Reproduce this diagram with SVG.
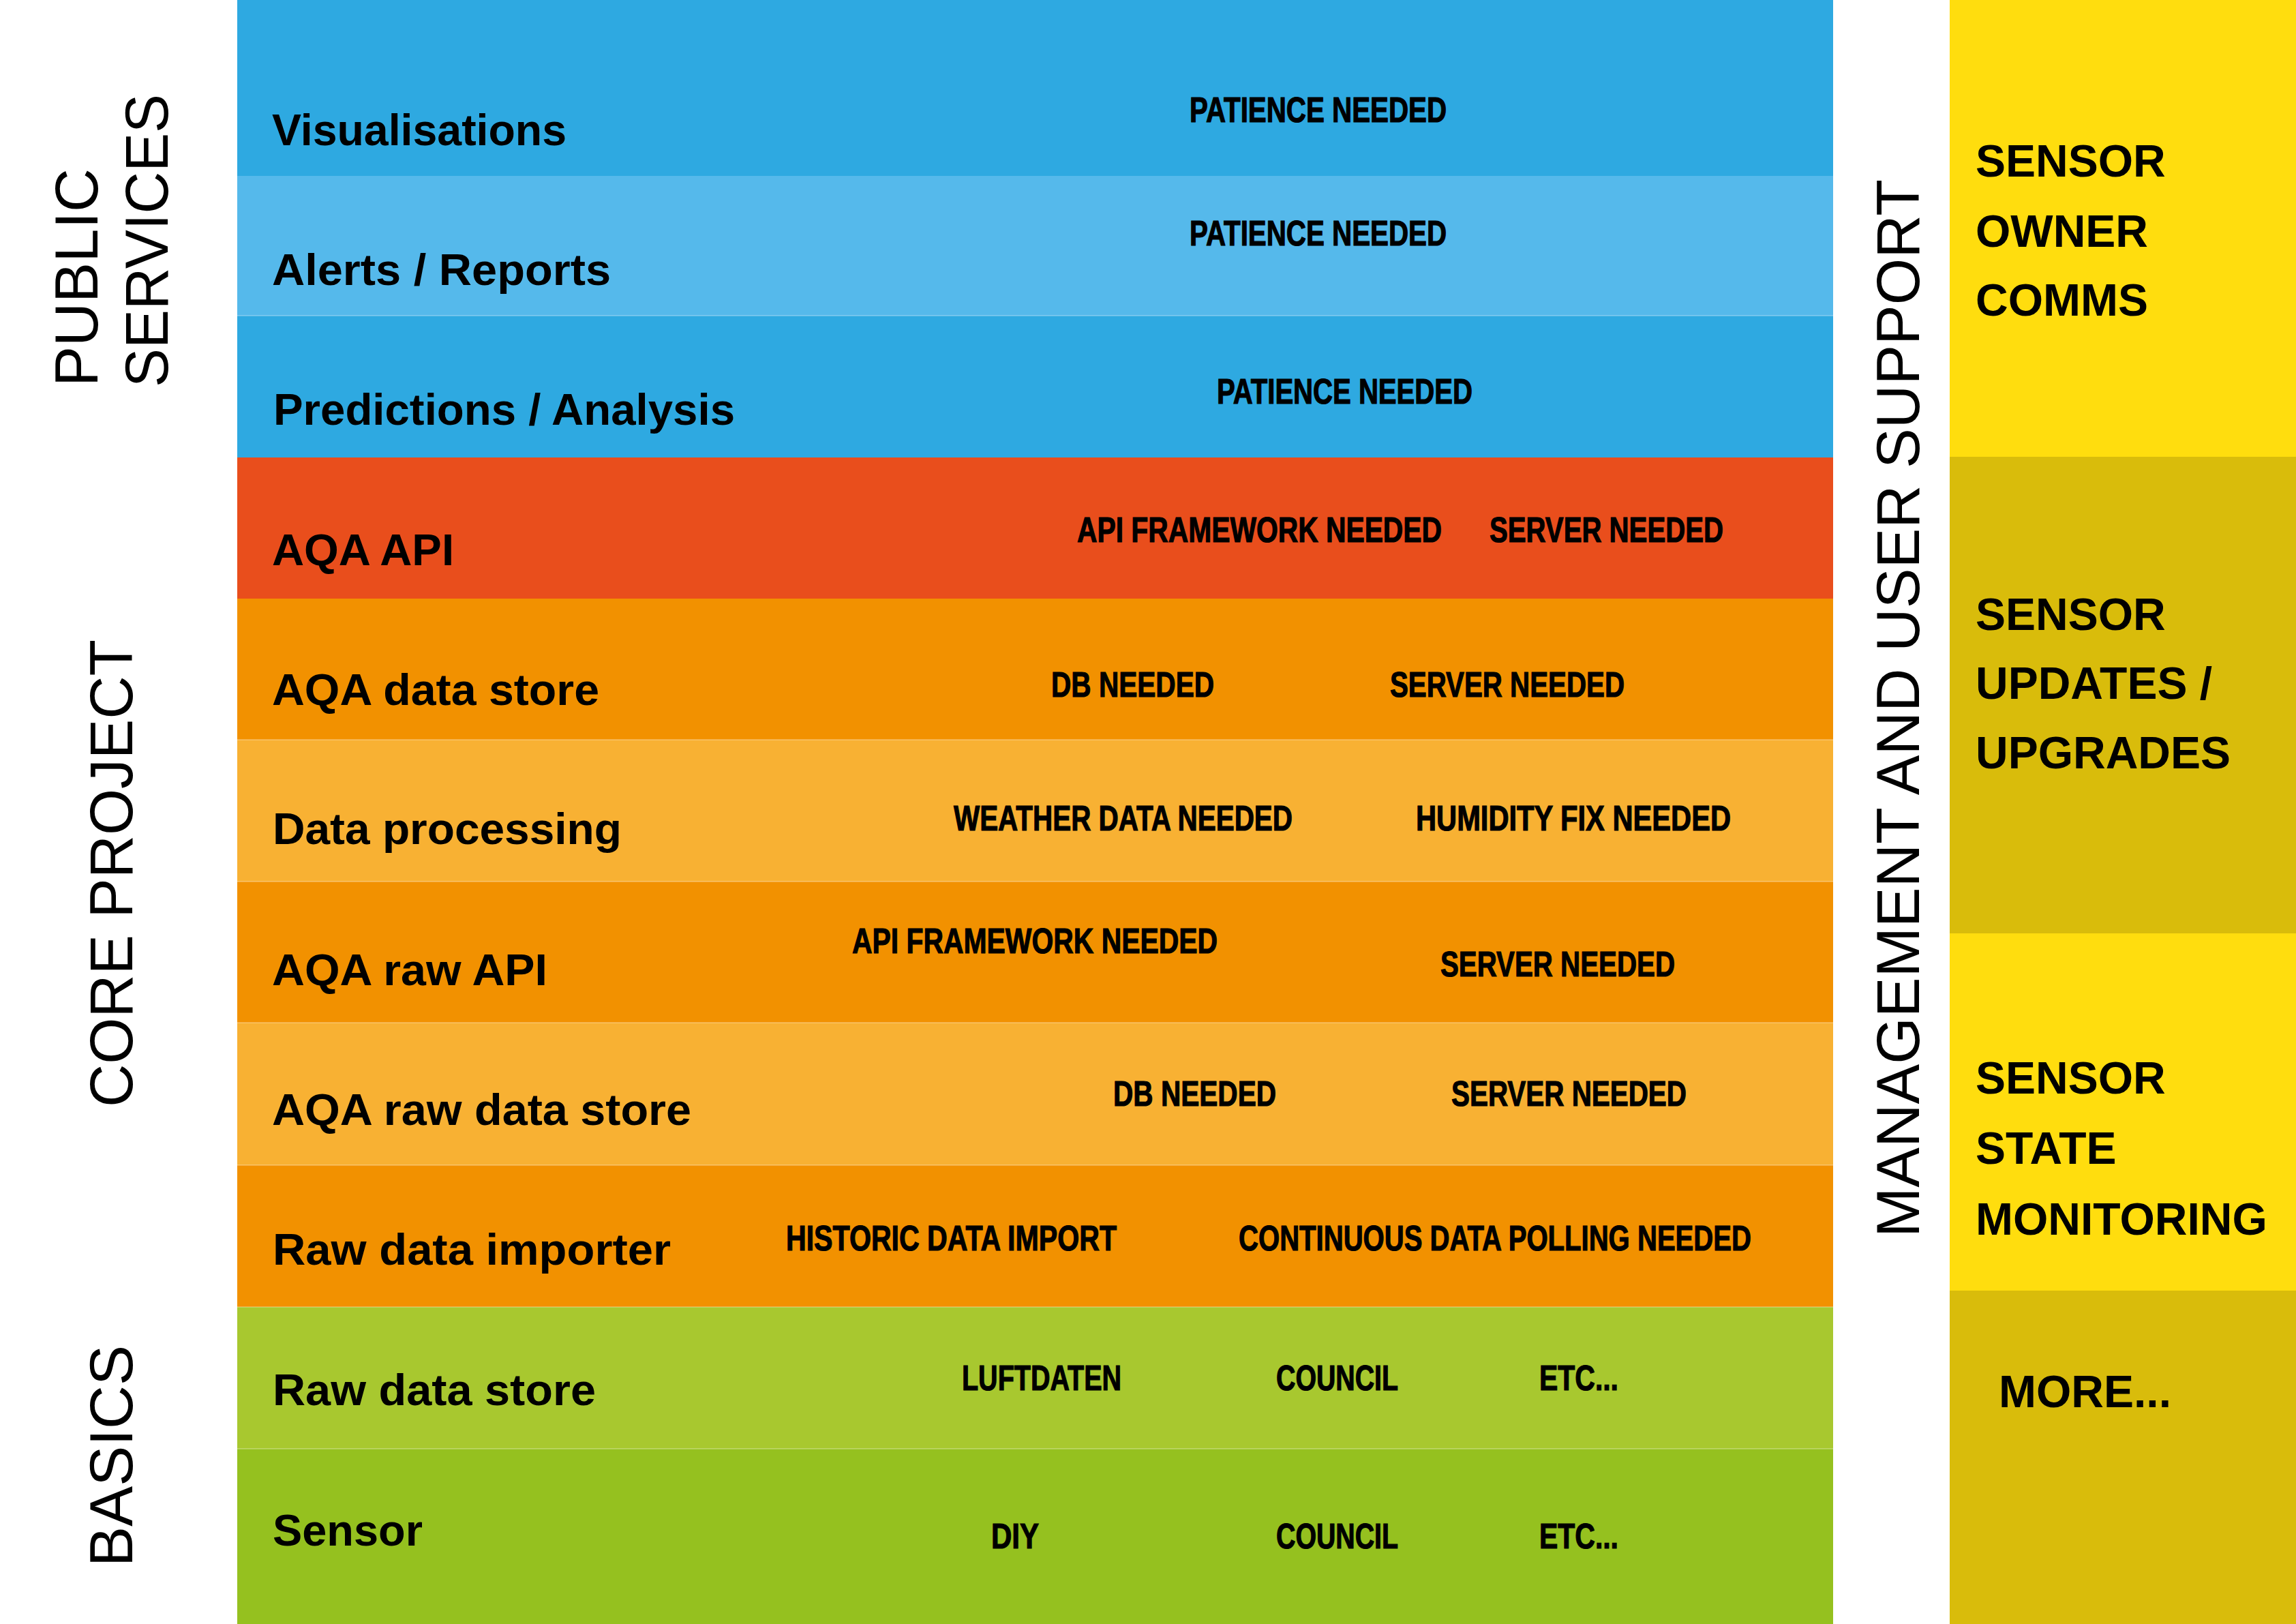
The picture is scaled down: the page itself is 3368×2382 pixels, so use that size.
<svg xmlns="http://www.w3.org/2000/svg" width="3368" height="2382" viewBox="0 0 3368 2382">
<style>
.row{font-family:"Liberation Sans",Arial,sans-serif;font-weight:bold;font-size:64px;fill:#000}
.tag{font-family:"Liberation Sans Narrow","Liberation Sans",Arial,sans-serif;font-weight:bold;font-size:52px;fill:#000;stroke:#000;stroke-width:1.2px}
.side{font-family:"Liberation Sans",Arial,sans-serif;font-size:89px;fill:#000}
.right{font-family:"Liberation Sans",Arial,sans-serif;font-weight:bold;font-size:66px;fill:#000}
.seam{stroke:#ffffff;stroke-opacity:0.25;stroke-width:2}
</style>
<rect x="0" y="0" width="3368" height="2382" fill="#ffffff"/>
<g id="side-labels">
<text class="side" transform="translate(143,567) rotate(-90)" textLength="320" lengthAdjust="spacingAndGlyphs">PUBLIC</text>
<text class="side" transform="translate(246,568) rotate(-90)" textLength="430" lengthAdjust="spacingAndGlyphs">SERVICES</text>
<text class="side" transform="translate(194,1624) rotate(-90)" textLength="686" lengthAdjust="spacingAndGlyphs">CORE PROJECT</text>
<text class="side" transform="translate(194,2298) rotate(-90)" textLength="325" lengthAdjust="spacingAndGlyphs">BASICS</text>
<text class="side" transform="translate(2815,1815) rotate(-90)" textLength="1552" lengthAdjust="spacingAndGlyphs">MANAGEMENT AND USER SUPPORT</text>
</g>
<g id="row-visualisations">
<rect x="348" y="0" width="2341" height="258" fill="#2EA9E1"/>
<text class="row" x="399" y="213" textLength="432" lengthAdjust="spacingAndGlyphs">Visualisations</text>
<text class="tag" x="1745" y="179" textLength="377" lengthAdjust="spacingAndGlyphs">PATIENCE NEEDED</text>
</g>
<g id="row-alerts">
<rect x="348" y="258" width="2341" height="205" fill="#55B9EB"/>
<text class="row" x="399" y="418" textLength="497" lengthAdjust="spacingAndGlyphs">Alerts / Reports</text>
<text class="tag" x="1745" y="360" textLength="377" lengthAdjust="spacingAndGlyphs">PATIENCE NEEDED</text>
</g>
<g id="row-predictions">
<rect x="348" y="463" width="2341" height="208" fill="#2EA9E1"/>
<text class="row" x="401" y="623" textLength="677" lengthAdjust="spacingAndGlyphs">Predictions / Analysis</text>
<text class="tag" x="1785" y="592" textLength="375" lengthAdjust="spacingAndGlyphs">PATIENCE NEEDED</text>
</g>
<g id="row-aqa-api">
<rect x="348" y="671" width="2341" height="207" fill="#E94E1C"/>
<text class="row" x="399" y="829" textLength="267" lengthAdjust="spacingAndGlyphs">AQA API</text>
<text class="tag" x="1580" y="795" textLength="535" lengthAdjust="spacingAndGlyphs">API FRAMEWORK NEEDED</text>
<text class="tag" x="2185" y="795" textLength="343" lengthAdjust="spacingAndGlyphs">SERVER NEEDED</text>
</g>
<g id="row-aqa-data-store">
<rect x="348" y="878" width="2341" height="207" fill="#F29100"/>
<text class="row" x="399" y="1034" textLength="480" lengthAdjust="spacingAndGlyphs">AQA data store</text>
<text class="tag" x="1542" y="1022" textLength="239" lengthAdjust="spacingAndGlyphs">DB NEEDED</text>
<text class="tag" x="2039" y="1022" textLength="344" lengthAdjust="spacingAndGlyphs">SERVER NEEDED</text>
</g>
<g id="row-data-processing">
<rect x="348" y="1085" width="2341" height="208" fill="#F8B133"/>
<text class="row" x="400" y="1238" textLength="512" lengthAdjust="spacingAndGlyphs">Data processing</text>
<text class="tag" x="1399" y="1218" textLength="497" lengthAdjust="spacingAndGlyphs">WEATHER DATA NEEDED</text>
<text class="tag" x="2077" y="1218" textLength="462" lengthAdjust="spacingAndGlyphs">HUMIDITY FIX NEEDED</text>
</g>
<g id="row-aqa-raw-api">
<rect x="348" y="1293" width="2341" height="207" fill="#F29100"/>
<text class="row" x="399" y="1445" textLength="404" lengthAdjust="spacingAndGlyphs">AQA raw API</text>
<text class="tag" x="1250" y="1398" textLength="536" lengthAdjust="spacingAndGlyphs">API FRAMEWORK NEEDED</text>
<text class="tag" x="2113" y="1432" textLength="344" lengthAdjust="spacingAndGlyphs">SERVER NEEDED</text>
</g>
<g id="row-aqa-raw-data-store">
<rect x="348" y="1500" width="2341" height="209" fill="#F8B133"/>
<text class="row" x="399" y="1650" textLength="615" lengthAdjust="spacingAndGlyphs">AQA raw data store</text>
<text class="tag" x="1633" y="1622" textLength="239" lengthAdjust="spacingAndGlyphs">DB NEEDED</text>
<text class="tag" x="2129" y="1622" textLength="345" lengthAdjust="spacingAndGlyphs">SERVER NEEDED</text>
</g>
<g id="row-raw-data-importer">
<rect x="348" y="1709" width="2341" height="208" fill="#F29100"/>
<text class="row" x="400" y="1855" textLength="584" lengthAdjust="spacingAndGlyphs">Raw data importer</text>
<text class="tag" x="1153" y="1834" textLength="485" lengthAdjust="spacingAndGlyphs">HISTORIC DATA IMPORT</text>
<text class="tag" x="1817" y="1834" textLength="752" lengthAdjust="spacingAndGlyphs">CONTINUOUS DATA POLLING NEEDED</text>
</g>
<g id="row-raw-data-store">
<rect x="348" y="1917" width="2341" height="208" fill="#A8C82F"/>
<text class="row" x="400" y="2061" textLength="474" lengthAdjust="spacingAndGlyphs">Raw data store</text>
<text class="tag" x="1411" y="2039" textLength="234" lengthAdjust="spacingAndGlyphs">LUFTDATEN</text>
<text class="tag" x="1872" y="2039" textLength="179" lengthAdjust="spacingAndGlyphs">COUNCIL</text>
<text class="tag" x="2258" y="2039" textLength="116" lengthAdjust="spacingAndGlyphs">ETC...</text>
</g>
<g id="row-sensor">
<rect x="348" y="2125" width="2341" height="257" fill="#95C11F"/>
<text class="row" x="400" y="2267" textLength="220" lengthAdjust="spacingAndGlyphs">Sensor</text>
<text class="tag" x="1454" y="2271" textLength="70" lengthAdjust="spacingAndGlyphs">DIY</text>
<text class="tag" x="1872" y="2271" textLength="179" lengthAdjust="spacingAndGlyphs">COUNCIL</text>
<text class="tag" x="2258" y="2271" textLength="116" lengthAdjust="spacingAndGlyphs">ETC...</text>
</g>
<g id="row-seams">
<line class="seam" x1="348" y1="463" x2="2689" y2="463"/>
<line class="seam" x1="348" y1="1085" x2="2689" y2="1085"/>
<line class="seam" x1="348" y1="1293" x2="2689" y2="1293"/>
<line class="seam" x1="348" y1="1500" x2="2689" y2="1500"/>
<line class="seam" x1="348" y1="1709" x2="2689" y2="1709"/>
<line class="seam" x1="348" y1="1917" x2="2689" y2="1917"/>
<line class="seam" x1="348" y1="2125" x2="2689" y2="2125"/>
</g>
<g id="box-owner-comms">
<rect x="2860" y="0" width="508" height="670" fill="#FFDD0E"/>
<text class="right" x="2898" y="259">SENSOR</text>
<text class="right" x="2898" y="362">OWNER</text>
<text class="right" x="2898" y="463">COMMS</text>
</g>
<g id="box-updates">
<rect x="2860" y="670" width="508" height="699" fill="#D9BC0B"/>
<text class="right" x="2898" y="924">SENSOR</text>
<text class="right" x="2898" y="1025">UPDATES /</text>
<text class="right" x="2898" y="1127">UPGRADES</text>
</g>
<g id="box-monitoring">
<rect x="2860" y="1369" width="508" height="524" fill="#FFDD0E"/>
<text class="right" x="2898" y="1604">SENSOR</text>
<text class="right" x="2898" y="1707">STATE</text>
<text class="right" x="2898" y="1811">MONITORING</text>
</g>
<g id="box-more">
<rect x="2860" y="1893" width="508" height="489" fill="#D9BC0B"/>
<text class="right" x="2932" y="2064">MORE...</text>
</g>
<g id="connectors"></g>
</svg>
